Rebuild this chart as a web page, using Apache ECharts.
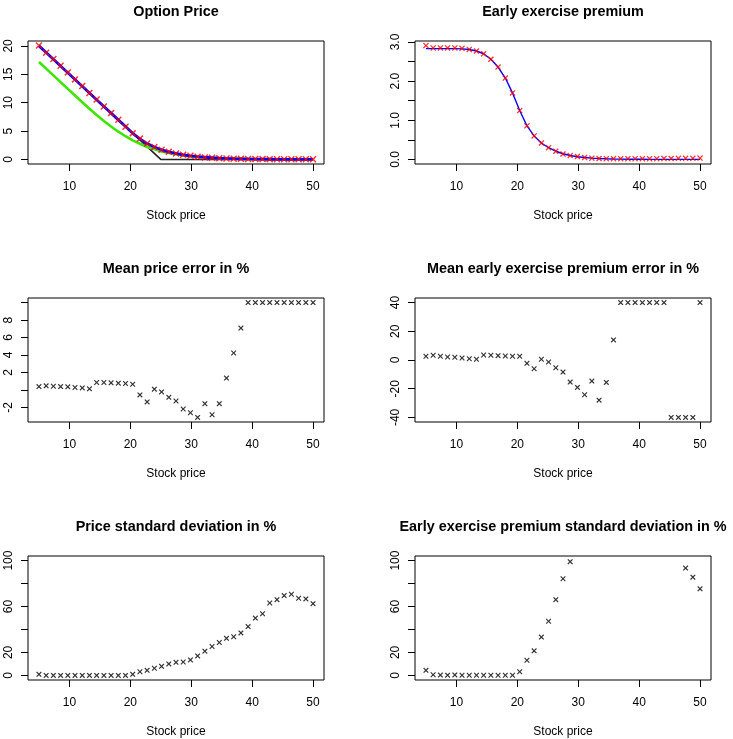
<!DOCTYPE html>
<html>
<head>
<meta charset="utf-8">
<script src="https://cdn.jsdelivr.net/npm/echarts@6/dist/echarts.min.js"></script>
<style>
  html, body { margin: 0; padding: 0; background: #fff; }
  #main { width: 733px; height: 739px; }
</style>
</head>
<body>
<div id="main"></div>
<script>
// stock prices on the horizontal axis (39 evenly spaced points)
var xStock = [5.00, 6.18, 7.37, 8.55, 9.74, 10.92, 12.11, 13.29, 14.47, 15.66,
  16.84, 18.03, 19.21, 20.39, 21.58, 22.76, 23.95, 25.13, 26.32, 27.50,
  28.68, 29.87, 31.05, 32.24, 33.42, 34.61, 35.79, 36.97, 38.16, 39.34,
  40.53, 41.71, 42.89, 44.08, 45.26, 46.45, 47.63, 48.82, 50.00];
var xTicks = [10, 20, 30, 40, 50];

// Option Price
var payoffX = [5, 25, 50];
var payoffY = [20, 0, 0];
var optionMC = [20.06, 18.80, 17.67, 16.50, 15.33, 14.10, 12.94, 11.72, 10.55, 9.33,
  8.16, 7.00, 5.77, 4.60, 3.67, 2.80, 2.20, 1.70, 1.34, 1.05,
  0.82, 0.64, 0.47, 0.35, 0.29, 0.23, 0.18, 0.14, 0.11, 0.09,
  0.07, 0.06, 0.05, 0.04, 0.04, 0.03, 0.03, 0.03, 0.03];
var optionAm = [20.00, 18.82, 17.63, 16.45, 15.26, 14.08, 12.89, 11.71, 10.53, 9.34,
  8.16, 6.97, 5.79, 4.61, 3.62, 2.80, 2.20, 1.70, 1.34, 1.05,
  0.82, 0.64, 0.50, 0.39, 0.30, 0.23, 0.18, 0.14, 0.11, 0.085,
  0.065, 0.05, 0.04, 0.03, 0.025, 0.02, 0.015, 0.012, 0.01];
var optionEu = [17.17, 15.99, 14.80, 13.62, 12.43, 11.26, 10.08, 8.94, 7.83, 6.78,
  5.80, 4.89, 4.09, 3.36, 2.76, 2.20, 1.78, 1.40, 1.13, 0.91,
  0.72, 0.57, 0.45, 0.36, 0.28, 0.21, 0.17, 0.13, 0.10, 0.08,
  0.06, 0.045, 0.036, 0.027, 0.022, 0.018, 0.013, 0.011, 0.009];

// Early exercise premium
var premMC = [2.91, 2.85, 2.85, 2.85, 2.85, 2.84, 2.81, 2.77, 2.70, 2.56,
  2.36, 2.08, 1.70, 1.25, 0.86, 0.60, 0.42, 0.30, 0.21, 0.14,
  0.10, 0.076, 0.05, 0.034, 0.025, 0.02, 0.02, 0.02, 0.02, 0.02,
  0.02, 0.02, 0.02, 0.025, 0.025, 0.03, 0.03, 0.03, 0.035];
var premLine = [2.83, 2.83, 2.83, 2.83, 2.83, 2.825, 2.81, 2.77, 2.70, 2.56,
  2.36, 2.08, 1.70, 1.25, 0.86, 0.60, 0.42, 0.30, 0.21, 0.145,
  0.10, 0.07, 0.05, 0.035, 0.025, 0.018, 0.013, 0.009, 0.007, 0.005,
  0.004, 0.003, 0.002, 0.002, 0.001, 0.001, 0.001, 0.001, 0.001];

// errors and standard deviations in %
var meanPriceErr = [0.38, 0.46, 0.42, 0.38, 0.35, 0.27, 0.23, 0.12, 0.85, 0.85,
  0.81, 0.77, 0.73, 0.65, -0.58, -1.38, 0.08, -0.23, -0.85, -1.27,
  -2.19, -2.62, -3.15, -1.58, -2.85, -1.58, 1.35, 4.23, 7.08, 10,
  10, 10, 10, 10, 10, 10, 10, 10, 10];
var meanPremErr = [2.6, 3.3, 2.6, 2.1, 1.9, 1.4, 0.9, 0.5, 3.5, 3.3,
  3.0, 2.8, 2.6, 2.6, -2.3, -6.1, 0.5, -1.4, -5.4, -8.4,
  -15.4, -19.1, -24.2, -14.7, -28.0, -15.6, 14.0, 40, 40, 40,
  40, 40, 40, 40, -40, -40, -40, -40, 40];
var priceSd = [0.9, 0, 0, 0, 0, 0, 0, 0, 0, 0,
  0, 0, 0, 0.9, 3.2, 4.4, 6.2, 7.9, 10.0, 11.4,
  11.7, 13.5, 17.0, 21.1, 25.2, 28.7, 32.3, 33.7, 37.0, 42.5,
  49.9, 53.7, 63.1, 66.0, 69.5, 70.7, 67.2, 66.6, 62.5];
var premSd = [4.4, 0.6, 0.3, 0.2, 0.4, 0.1, 0.1, 0.1, 0.1, 0.1,
  0.1, 0.1, 0.1, 3.2, 13.2, 21.4, 33.4, 47.2, 66.0, 84.2,
  99.1, null, null, null, null, null, null, null, null, null,
  null, null, null, null, null, null, 93.5, 85.6, 75.4];

var titles = ['Option Price', 'Early exercise premium',
  'Mean price error in %', 'Mean early exercise premium error in %',
  'Price standard deviation in %', 'Early exercise premium standard deviation in %'];

var FONT = '"Liberation Sans", Arial, Helvetica, sans-serif';
var CROSS = 'path://M0,1.5L1.5,0L5,3.5L8.5,0L10,1.5L6.5,5L10,8.5L8.5,10L5,6.5L1.5,10L0,8.5L3.5,5Z';

// panel layout: box position and y scale per panel
var panels = [
  { left: 28, top: 41, w: 296, h: 123, ymin: -0.80, ymax: 20.86, yTicks: [0, 5, 10, 15, 20], yLabels: [0, 5, 10, 15, 20], fmt: 0 },
  { left: 415, top: 41, w: 296, h: 123, ymin: -0.116, ymax: 3.026, yTicks: [0, 0.5, 1, 1.5, 2, 2.5, 3], yLabels: [0, 1, 2, 3], fmt: 1 },
  { left: 28, top: 298, w: 296, h: 124, ymin: -3.68, ymax: 10.53, yTicks: [-2, 0, 2, 4, 6, 8, 10], yLabels: [-2, 2, 4, 6, 8], fmt: 0 },
  { left: 415, top: 298, w: 296, h: 124, ymin: -43.2, ymax: 43.2, yTicks: [-40, -20, 0, 20, 40], yLabels: [-40, -20, 0, 20, 40], fmt: 0 },
  { left: 28, top: 556, w: 296, h: 124, ymin: -4, ymax: 104, yTicks: [0, 20, 40, 60, 80, 100], yLabels: [0, 20, 60, 100], fmt: 0 },
  { left: 415, top: 556, w: 296, h: 124, ymin: -4, ymax: 104, yTicks: [0, 20, 40, 60, 80, 100], yLabels: [0, 20, 60, 100], fmt: 0 }
];

function pairs(xs, ys) {
  var out = [];
  for (var i = 0; i < xs.length; i++) {
    if (ys[i] !== null && ys[i] !== undefined) out.push([xs[i], ys[i]]);
  }
  return out;
}

var grids = [], xAxes = [], yAxes = [], graphics = [];
panels.forEach(function (p, i) {
  grids.push({ left: p.left, top: p.top, width: p.w, height: p.h, show: true,
    borderColor: '#000', borderWidth: 1, backgroundColor: 'transparent' });
  xAxes.push({
    gridIndex: i, type: 'value', min: 3.2, max: 51.8, position: 'bottom',
    axisLine: { show: false, onZero: false },
    axisTick: { show: true, length: 7, customValues: xTicks, lineStyle: { color: '#000', width: 1 } },
    axisLabel: { customValues: xTicks, fontSize: 12, color: '#000', fontFamily: FONT, margin: 17 },
    splitLine: { show: false },
    name: 'Stock price', nameLocation: 'middle', nameGap: 46,
    nameTextStyle: { fontSize: 12, color: '#000', fontFamily: FONT }
  });
  yAxes.push({
    gridIndex: i, type: 'value', min: p.ymin, max: p.ymax, position: 'left',
    axisLine: { show: false, onZero: false },
    axisTick: { show: true, length: 7, customValues: p.yTicks, lineStyle: { color: '#000', width: 1 } },
    axisLabel: { customValues: p.yLabels, rotate: 90, fontSize: 12, color: '#000', fontFamily: FONT, margin: 13,
      formatter: (function (d) { return function (v) { return Number(v).toFixed(d); }; })(p.fmt) },
    splitLine: { show: false }
  });
  graphics.push({
    type: 'text', x: p.left + p.w / 2, y: p.top - 29,
    style: { text: titles[i], font: 'bold 14.4px ' + FONT, fill: '#000', align: 'center', verticalAlign: 'middle' }
  });
});

function crossSeries(idx, ys, color, size) {
  return { type: 'scatter', xAxisIndex: idx, yAxisIndex: idx, data: pairs(xStock, ys),
    symbol: CROSS, symbolSize: size, itemStyle: { color: color }, z: 5, silent: true };
}
function lineSeries(idx, xs, ys, color, width, z) {
  return { type: 'line', xAxisIndex: idx, yAxisIndex: idx, data: pairs(xs, ys), showSymbol: false,
    lineStyle: { color: color, width: width }, itemStyle: { color: color }, z: z, silent: true };
}

var series = [
  lineSeries(0, payoffX, payoffY, '#222', 1.6, 2),
  lineSeries(0, xStock, optionEu, '#3ce600', 2.6, 3),
  lineSeries(0, xStock, optionAm, '#0000ff', 2.8, 4),
  crossSeries(0, optionMC, '#ff0000', 7),
  lineSeries(1, xStock, premLine, '#0000ff', 1.4, 3),
  crossSeries(1, premMC, '#ff0000', 6),
  crossSeries(2, meanPriceErr, '#000', 5.5),
  crossSeries(3, meanPremErr, '#000', 5.5),
  crossSeries(4, priceSd, '#000', 5.5),
  crossSeries(5, premSd, '#000', 5.5)
];

var myChart = echarts.init(document.getElementById('main'), null, { renderer: 'canvas' });
myChart.setOption({
  animation: false,
  backgroundColor: '#fff',
  textStyle: { fontFamily: FONT },
  grid: grids,
  xAxis: xAxes,
  yAxis: yAxes,
  graphic: graphics,
  series: series
});
</script>
</body>
</html>
